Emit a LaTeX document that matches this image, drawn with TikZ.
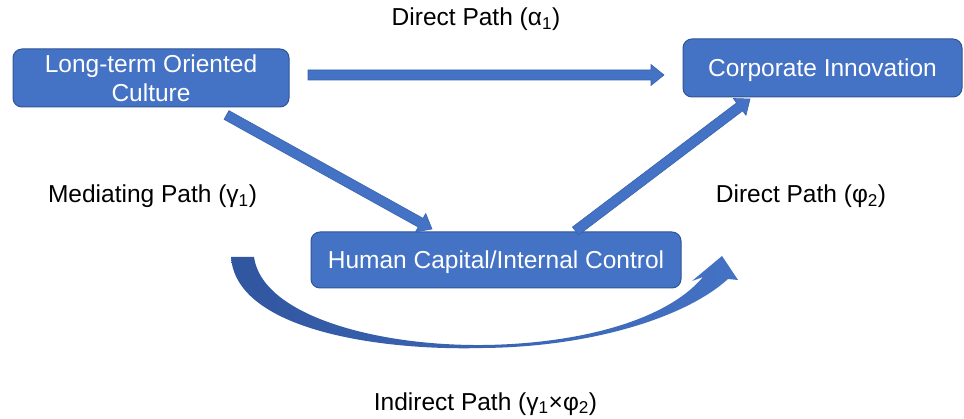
\documentclass[tikz,border=0pt]{standalone}
\usepackage{fontspec}
\setmainfont{Liberation Sans}
\usetikzlibrary{calc}
\definecolor{boxblue}{HTML}{4472C4}
\definecolor{boxedge}{HTML}{2F5597}
\definecolor{arrowedge}{HTML}{3A63B0}
\definecolor{curvedark}{HTML}{3156A0}
\newcommand\blockarr[2]{%
  \coordinate (ba-h) at ($(#2)!13pt!(#1)$);
  \path[blockarrow] ($(#1)!5pt!90:(#2)$) -- ($(ba-h)!5pt!90:(#2)$)
    -- ($(ba-h)!10.5pt!90:(#2)$) -- (#2) -- ($(ba-h)!10.5pt!-90:(#2)$)
    -- ($(ba-h)!5pt!-90:(#2)$) -- ($(#1)!5pt!-90:(#2)$) -- cycle;}
\tikzset{
  box/.style={draw=boxedge, line width=1pt, fill=boxblue, rounded corners=9pt,
    text=white, inner sep=0pt, font=\fontsize{24.5}{29.5}\selectfont},
  lbl/.style={anchor=base, inner sep=0pt, text=black, font=\fontsize{24.5}{29.5}\selectfont},
  blockarrow/.style={fill=boxblue, draw=arrowedge, line width=0.6pt, line join=miter},
}
\begin{document}
\begin{tikzpicture}[x=1pt,y=-1pt]
\useasboundingbox (0,0) rectangle (964,419);
\fill[white] (0,0) rectangle (964,419);

% boxes
\node[box, minimum width=276pt, minimum height=58pt, align=center] (lto) at (151,78) {Long-term Oriented\\Culture};
\node[box, minimum width=279pt, minimum height=58pt, text height=17.5pt, text depth=0pt] (ci) at (822.5,68) {Corporate Innovation};
\node[box, minimum width=370pt, minimum height=56pt, text height=17.5pt, text depth=0pt] (hc) at (496,260) {Human Capital/Internal Control};

% arrow end points
\coordinate (h-s) at (308,75);
\coordinate (h-e) at (664,75);
\coordinate (d1-s) at (226.5,115);
\coordinate (d1-e) at (432,229);
\coordinate (d2-s) at (575.5,231);
\coordinate (d2-e) at (750,99);

\blockarr{h-s}{h-e}
\blockarr{d1-s}{d1-e}
\blockarr{d2-s}{d2-e}

% curved indirect arrow
\shade[left color=curvedark, right color=boxblue]
  (231,257) .. controls (236,330) and (380,351) .. (483,348)
  .. controls (590,347) and (685,318) .. (728,279)
  -- (738,280) -- (722,256) -- (692,281) -- (703,277)
  .. controls (665,322) and (575,344) .. (483,345)
  .. controls (375,346) and (262,315) .. (254,257) -- cycle;

% labels
\node[lbl] (la) at (476,26) {Direct Path (α\textsubscript{1})};
\node[lbl] (lm) at (152.5,203) {Mediating Path (γ\textsubscript{1})};
\node[lbl] (lp) at (801,203) {Direct Path (φ\textsubscript{2})};
\node[lbl] (li) at (485.5,410) {Indirect Path (γ\textsubscript{1}×φ\textsubscript{2})};
\end{tikzpicture}
\end{document}
